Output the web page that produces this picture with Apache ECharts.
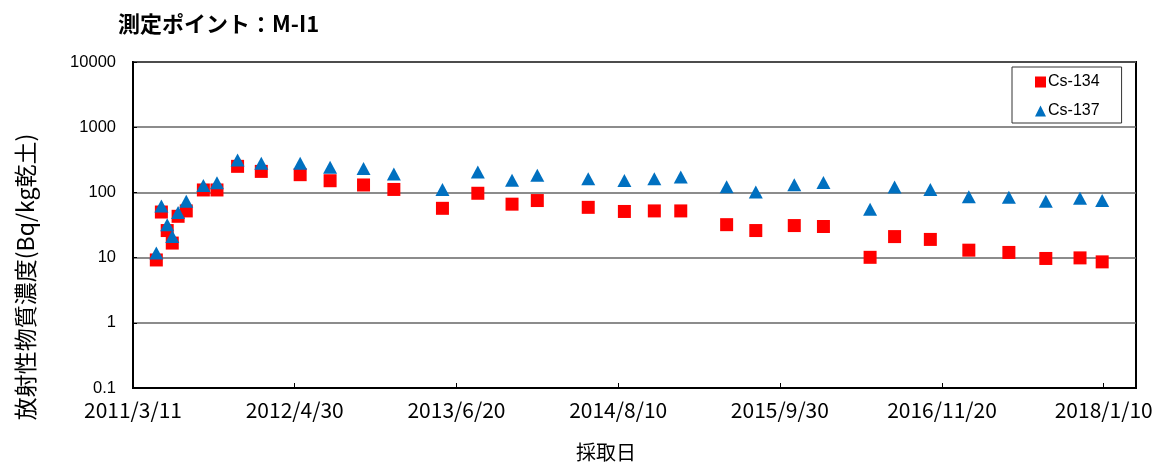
<!DOCTYPE html>
<html>
<head>
<meta charset="utf-8">
<script src="https://cdn.jsdelivr.net/npm/echarts@6/dist/echarts.min.js"></script>
<style>
  html, body { margin: 0; padding: 0; background: #fff; }
  #chart { width: 1163px; height: 466px; }
</style>
</head>
<body>
<div id="chart"></div>
<script>
// 採取日
const sampleDates = [
  '2011/5/10', '2011/5/23', '2011/6/7', '2011/6/20', '2011/7/5', '2011/7/26',
  '2011/9/8', '2011/10/13', '2011/12/5', '2012/2/4', '2012/5/14', '2012/7/30',
  '2012/10/24', '2013/1/10', '2013/5/15', '2013/8/14', '2013/11/10', '2014/1/14',
  '2014/5/25', '2014/8/26', '2014/11/11', '2015/1/18', '2015/5/16', '2015/7/30',
  '2015/11/6', '2016/1/20', '2016/5/19', '2016/7/21', '2016/10/21', '2017/1/28',
  '2017/5/11', '2017/8/14', '2017/11/10', '2018/1/6'
]
const cs134 = [
  9.2, 50, 26, 16.7, 43, 52, 109, 109, 251, 210, 187, 151,
  130, 111, 57, 97, 66, 75, 59, 51, 52, 52, 32, 26,
  31, 30, 10.1, 21, 19, 13, 12, 9.7, 9.9, 8.6
]
const cs137 = [
  11.8, 62, 32, 21, 49, 73, 128, 140, 313, 281, 279, 243,
  232, 191, 111, 205, 153, 183, 162, 152, 162, 173, 122, 101,
  131, 142, 55, 121, 111, 86, 84, 73, 81, 75
]
const xTickLabels = ['2011/3/11', '2012/4/30', '2013/6/20', '2014/8/10', '2015/9/30', '2016/11/20', '2018/1/10']

const BASE = Date.UTC(2011, 2, 11)
const dayOf = (s) => {
  const [y, m, d] = s.split('/').map(Number)
  return Math.round((Date.UTC(y, m - 1, d) - BASE) / 86400000)
}
const tickDays = xTickLabels.map(dayOf)
const labelByDay = {}
tickDays.forEach((d, i) => { labelByDay[d] = xTickLabels[i] })

const pairs = (vals) => sampleDates.map((s, i) => [dayOf(s), vals[i]])

const chart = echarts.init(document.getElementById('chart'))

const option = {
  animation: false,
  title: {
    text: '測定ポイント：M-I1',
    left: 113,
    top: 8,
    textStyle: { fontFamily: 'Noto Sans CJK JP', fontSize: 22, fontWeight: 'bold', color: '#000' }
  },
  grid: {
    left: 133,
    right: 27,
    top: 62,
    bottom: 78,
    show: true,
    borderColor: '#000',
    borderWidth: 2,
    backgroundColor: '#fff'
  },
  legend: {
    orient: 'vertical',
    left: 1012,
    top: 67,
    padding: [7, 22, 4, 23],
    itemGap: 13,
    itemWidth: 11,
    itemHeight: 11,
    backgroundColor: '#fff',
    borderColor: '#333',
    borderWidth: 1,
    textStyle: { fontFamily: 'Liberation Sans', fontSize: 16, color: '#000', padding: [0, 0, 0, -3] },
    data: ['Cs-134', 'Cs-137']
  },
  xAxis: {
    type: 'value',
    min: 0,
    max: 2580,
    axisLine: { show: true, lineStyle: { color: '#000', width: 2 } },
    axisTick: {
      show: true,
      inside: true,
      length: 5,
      customValues: tickDays,
      lineStyle: { color: '#000' }
    },
    axisLabel: {
      customValues: tickDays,
      margin: 12,
      fontFamily: 'Noto Sans CJK JP',
      fontSize: 21,
      color: '#000',
      formatter: (v) => labelByDay[v] || ''
    },
    splitLine: { show: false }
  },
  yAxis: {
    type: 'log',
    logBase: 10,
    min: 0.1,
    max: 10000,
    axisLine: { show: true, lineStyle: { color: '#000', width: 2 } },
    axisTick: { show: true, inside: true, length: 4, lineStyle: { color: '#000' } },
    axisLabel: {
      margin: 17,
      fontFamily: 'Liberation Sans',
      fontSize: 16.5,
      color: '#000',
      formatter: (v) => String(Number(v.toPrecision(6)))
    },
    splitLine: { show: true, lineStyle: { color: '#666', width: 1.5 } }
  },
  graphic: [
    {
      type: 'text',
      x: 25,
      y: 277,
      rotation: Math.PI / 2,
      style: {
        text: '放射性物質濃度(Bq/kg乾土)',
        fontFamily: 'Noto Sans CJK JP',
        fontSize: 23,
        fill: '#000',
        align: 'center',
        verticalAlign: 'middle'
      }
    },
    {
      type: 'text',
      x: 606,
      y: 452,
      style: {
        text: '採取日',
        fontFamily: 'Noto Sans CJK JP',
        fontSize: 20,
        fill: '#000',
        align: 'center',
        verticalAlign: 'middle'
      }
    }
  ],
  series: [
    {
      name: 'Cs-134',
      type: 'scatter',
      symbol: 'rect',
      symbolSize: 13,
      itemStyle: { color: '#ff0000', opacity: 1 },
      data: pairs(cs134)
    },
    {
      name: 'Cs-137',
      type: 'scatter',
      symbol: 'triangle',
      symbolSize: [14, 13],
      itemStyle: { color: '#0070c0', opacity: 1 },
      data: pairs(cs137)
    }
  ]
}

chart.setOption(option)
</script>
</body>
</html>
